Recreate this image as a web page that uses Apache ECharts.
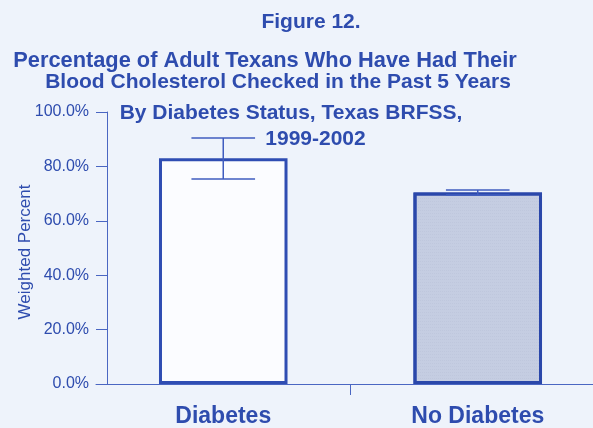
<!DOCTYPE html>
<html>
<head>
<meta charset="utf-8">
<script src="https://cdn.jsdelivr.net/npm/echarts@6/dist/echarts.min.js"></script>
<style>
  html, body { margin: 0; padding: 0; background: #eef3fb; }
  #chart { width: 593px; height: 428px; }
</style>
</head>
<body>
<div id="chart"></div>
<script>
// Cholesterol screening by diabetes status, Texas BRFSS 1999-2002
const categories = ['Diabetes', 'No Diabetes'];
const percentChecked = [83.0, 70.4];
const ciLower = [75.4, 69.5];
const ciUpper = [90.4, 71.3];
const yTicks = [0, 20, 40, 60, 80, 100];
const yAxisTitle = 'Weighted Percent';

const titleLines = [
  'Figure 12.',
  'Percentage of Adult Texans Who Have Had Their',
  'Blood Cholesterol Checked in the Past 5 Years',
  'By Diabetes Status, Texas BRFSS,',
  '1999-2002'
];

const BLUE = '#2e4cae';
const AXIS_BLUE = '#4a66c2';
const FONT = '"Liberation Sans", Arial, sans-serif';

const chart = echarts.init(document.getElementById('chart'), null, { renderer: 'canvas' });

// centre point and size of each title line
const titleLayout = [
  { x: 311, y: 22, size: 21 },
  { x: 265, y: 61, size: 21.8 },
  { x: 278, y: 82.5, size: 21 },
  { x: 291, y: 113.5, size: 21 },
  { x: 315.5, y: 139, size: 21 }
];

const titleGraphics = titleLines.map((t, i) => ({
  type: 'text',
  x: titleLayout[i].x,
  y: titleLayout[i].y,
  style: {
    text: t,
    fill: BLUE,
    font: 'bold ' + titleLayout[i].size + 'px ' + FONT,
    textAlign: 'center',
    textVerticalAlign: 'middle'
  }
}));

// rotated y-axis title
titleGraphics.push({
  type: 'text',
  x: 25,
  y: 252,
  rotation: Math.PI / 2,
  style: {
    text: yAxisTitle,
    fill: BLUE,
    font: '17px ' + FONT,
    textAlign: 'center',
    textVerticalAlign: 'middle'
  }
});

const errorData = categories.map((c, i) => [i, ciLower[i], ciUpper[i]]);

chart.setOption({
  backgroundColor: '#eef3fb',
  animation: false,
  graphic: titleGraphics,
  grid: { left: 96, top: 112, width: 509, bottom: 44, outerBoundsMode: 'none', containLabel: false },
  xAxis: {
    type: 'category',
    data: categories,
    boundaryGap: true,
    axisLine: { lineStyle: { color: AXIS_BLUE, width: 1 } },
    axisTick: { show: false },
    axisLabel: {
      color: BLUE,
      fontFamily: FONT,
      fontWeight: 'bold',
      fontSize: 23,
      margin: 21
    }
  },
  yAxis: {
    type: 'value',
    min: 0,
    max: 100,
    interval: 20,
    offset: -11,
    axisLine: { show: true, lineStyle: { color: AXIS_BLUE, width: 1 } },
    axisTick: { show: true, length: 11, inside: false, lineStyle: { color: AXIS_BLUE, width: 1 } },
    splitLine: { show: false },
    axisLabel: {
      color: BLUE,
      fontFamily: FONT,
      fontSize: 16,
      margin: 18,
      formatter: (v) => yTicks.includes(v) ? v.toFixed(1) + '%' : ''
    }
  },
  series: [
    {
      type: 'bar',
      data: [
        { value: percentChecked[0], itemStyle: { color: '#fbfcff', borderColor: '#2f4db3', borderWidth: 3 } },
        { value: percentChecked[1], itemStyle: { color: '#c5cde2', borderColor: '#2a47aa', borderWidth: 3,
          decal: { symbol: 'rect', symbolSize: 0.5, dashArrayX: [1, 1], dashArrayY: [1, 2], color: 'rgba(150,160,190,0.45)' } } }
      ],
      barWidth: '50.5%',
      z: 2
    },
    {
      // confidence interval whiskers
      type: 'custom',
      data: errorData,
      z: 3,
      renderItem: (params, api) => {
        const i = api.value(0);
        const lo = api.coord([i, api.value(1)]);
        const hi = api.coord([i, api.value(2)]);
        const half = api.size([1, 0])[0] * 0.125;
        const style = { stroke: '#3f5cbf', lineWidth: 1.5, fill: null };
        return {
          type: 'group',
          children: [
            { type: 'line', shape: { x1: lo[0], y1: lo[1], x2: hi[0], y2: hi[1] }, style },
            { type: 'line', shape: { x1: lo[0] - half, y1: lo[1], x2: lo[0] + half, y2: lo[1] }, style },
            { type: 'line', shape: { x1: hi[0] - half, y1: hi[1], x2: hi[0] + half, y2: hi[1] }, style }
          ]
        };
      }
    },
    {
      // divider tick between the two categories on the x axis
      type: 'custom',
      data: [[0, 1]],
      z: 3,
      silent: true,
      renderItem: (params, api) => {
        const a = api.coord([api.value(0), 0]);
        const b = api.coord([api.value(1), 0]);
        const x = (a[0] + b[0]) / 2;
        return {
          type: 'line',
          shape: { x1: x, y1: a[1], x2: x, y2: a[1] + 11 },
          style: { stroke: AXIS_BLUE, lineWidth: 1 }
        };
      }
    }
  ]
});
</script>
</body>
</html>
